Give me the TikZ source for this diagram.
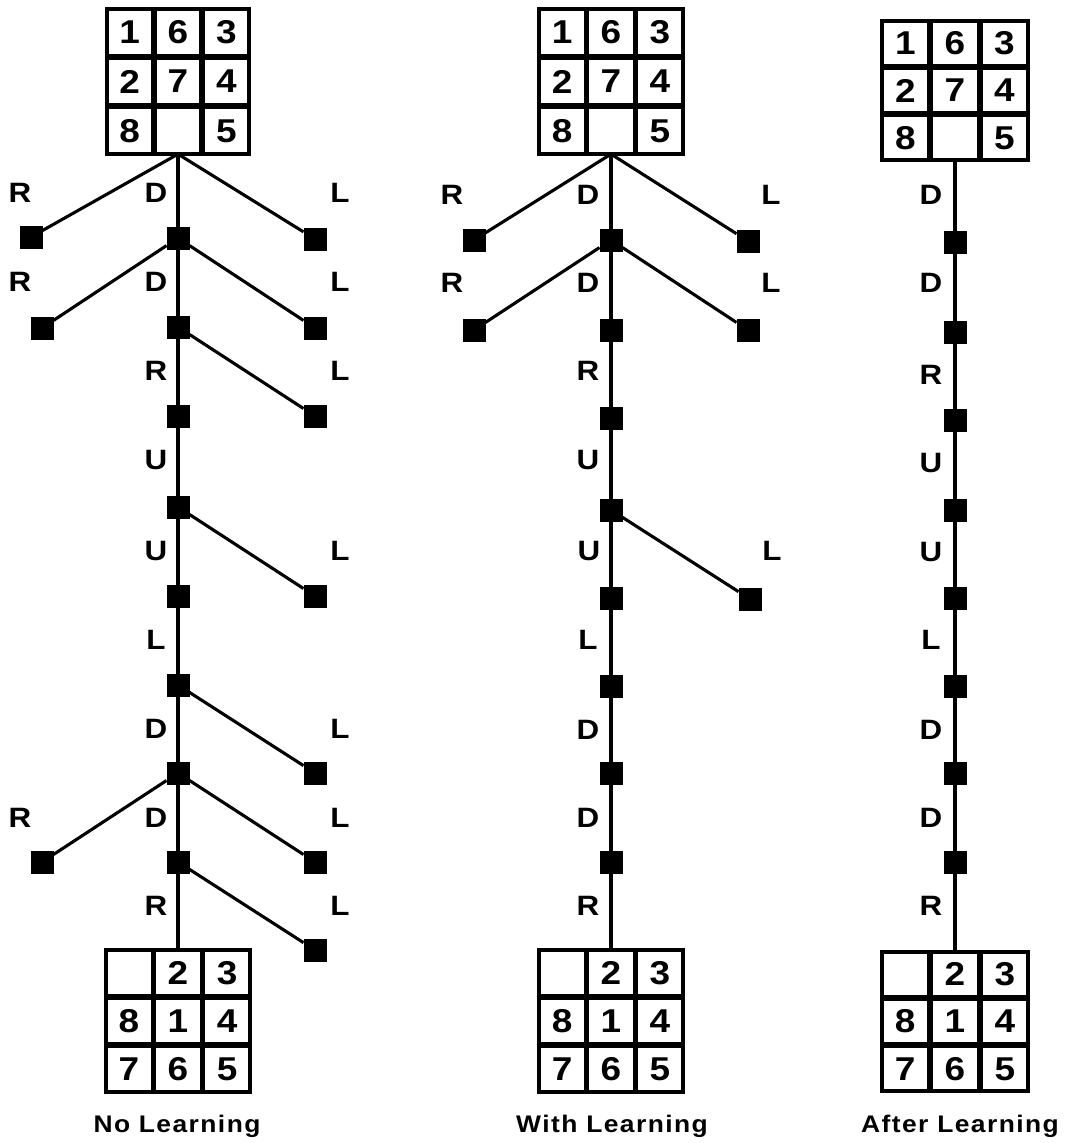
\documentclass[tikz,border=0pt]{standalone}
\usepackage{fontspec}
\newfontfamily\labfont{Liberation Sans}[FakeStretch=1.12]
\newfontfamily\titfont{Liberation Sans}[FakeStretch=1.1,LetterSpace=6]
\usetikzlibrary{matrix}
\tikzset{
  cell/.style={draw, line width=2.8pt, inner sep=0pt, outer sep=0pt, anchor=center,
    font=\labfont\bfseries\fontsize{33}{35}\selectfont},
  puzzle/.style 2 args={matrix of nodes, nodes in empty cells,
    nodes={cell, minimum width=#1, minimum height=#2},
    column sep=0pt, row sep=0pt, inner sep=-1.4pt, outer sep=0pt,
    draw, line width=4pt, anchor=north},
  sq/.style={fill=black, inner sep=0pt, outer sep=0pt, minimum size=23pt},
  lab/.style={font=\labfont\bfseries\fontsize{28}{30}\selectfont, inner sep=0pt},
  edge/.style={line width=3.1pt},
  title/.style={font=\titfont\bfseries\fontsize{24}{26}\selectfont, inner sep=0pt, anchor=base},
}
\begin{document}
\begin{tikzpicture}[x=1pt,y=-1pt]
\useasboundingbox (0,0) rectangle (1065,1143);

% ---------- No Learning ----------
\matrix (top1) [puzzle={45.5pt}{46.5pt}] at (178,9) {1 & 6 & 3\\ 2 & 7 & 4\\ 8 & & 5\\};
\matrix (bot1) [puzzle={46.3pt}{45.5pt}] at (178,950) { & 2 & 3\\ 8 & 1 & 4\\ 7 & 6 & 5\\};

\node[sq] (a1) at (178,238) {};
\node[sq] (a2) at (178,327) {};
\node[sq] (a3) at (178,416) {};
\node[sq] (a4) at (178,507) {};
\node[sq] (a5) at (178,596) {};
\node[sq] (a6) at (178,685) {};
\node[sq] (a7) at (178,773) {};
\node[sq] (a8) at (178,862) {};
\node[sq] (r1) at (31,237) {};
\node[sq] (r2) at (42,328) {};
\node[sq] (r8) at (42,862) {};
\node[sq] (l1) at (315,239) {};
\node[sq] (l2) at (315,328) {};
\node[sq] (l3) at (315,416) {};
\node[sq] (l5) at (315,596) {};
\node[sq] (l7) at (315,773) {};
\node[sq] (l8) at (315,862) {};
\node[sq] (l9) at (315,950) {};

\draw[edge] (top1.south) -- (r1);
\draw[edge] (top1.south) -- (a1);
\draw[edge] (top1.south) -- (l1);
\draw[edge] (a1) -- (r2);
\draw[edge] (a1) -- (a2);
\draw[edge] (a1) -- (l2);
\draw[edge] (a2) -- (a3);
\draw[edge] (a2) -- (l3);
\draw[edge] (a3) -- (a4);
\draw[edge] (a4) -- (a5);
\draw[edge] (a4) -- (l5);
\draw[edge] (a5) -- (a6);
\draw[edge] (a6) -- (a7);
\draw[edge] (a6) -- (l7);
\draw[edge] (a7) -- (a8);
\draw[edge] (a7) -- (r8);
\draw[edge] (a7) -- (l8);
\draw[edge] (a8) -- (bot1.north);
\draw[edge] (a8) -- (l9);

\node[lab] (t1a) at (20,193) {R};
\node[lab] (t1b) at (156,193) {D};
\node[lab] (t1c) at (340,193) {L};
\node[lab] (t2a) at (20,282) {R};
\node[lab] (t2b) at (156,282) {D};
\node[lab] (t2c) at (340,282) {L};
\node[lab] (t3b) at (156,371) {R};
\node[lab] (t3c) at (340,371) {L};
\node[lab] (t4b) at (156,460) {U};
\node[lab] (t5b) at (156,551) {U};
\node[lab] (t5c) at (340,551) {L};
\node[lab] (t6b) at (156,640) {L};
\node[lab] (t7b) at (156,729) {D};
\node[lab] (t7c) at (340,729) {L};
\node[lab] (t8a) at (20,818) {R};
\node[lab] (t8b) at (156,818) {D};
\node[lab] (t8c) at (340,818) {L};
\node[lab] (t9b) at (156,906) {R};
\node[lab] (t9c) at (340,906) {L};

\node[title] (ti1) at (177,1132) {No Learning};

% ---------- With Learning ----------
\matrix (top2) [puzzle={46pt}{46.5pt}] at (611,9) {1 & 6 & 3\\ 2 & 7 & 4\\ 8 & & 5\\};
\matrix (bot2) [puzzle={46pt}{45.5pt}] at (611,950) { & 2 & 3\\ 8 & 1 & 4\\ 7 & 6 & 5\\};

\node[sq] (b1) at (611,240) {};
\node[sq] (b2) at (611,330) {};
\node[sq] (b3) at (611,418) {};
\node[sq] (b4) at (611,510) {};
\node[sq] (b5) at (611,598) {};
\node[sq] (b6) at (611,686) {};
\node[sq] (b7) at (611,773) {};
\node[sq] (b8) at (611,862) {};
\node[sq] (mr1) at (474,240) {};
\node[sq] (ml1) at (748,241) {};
\node[sq] (mr2) at (474,330) {};
\node[sq] (ml2) at (748,330) {};
\node[sq] (ml5) at (750,599) {};

\draw[edge] (top2.south) -- (mr1);
\draw[edge] (top2.south) -- (b1);
\draw[edge] (top2.south) -- (ml1);
\draw[edge] (b1) -- (mr2);
\draw[edge] (b1) -- (b2);
\draw[edge] (b1) -- (ml2);
\draw[edge] (b2) -- (b3);
\draw[edge] (b3) -- (b4);
\draw[edge] (b4) -- (b5);
\draw[edge] (b4) -- (ml5);
\draw[edge] (b5) -- (b6);
\draw[edge] (b6) -- (b7);
\draw[edge] (b7) -- (b8);
\draw[edge] (b8) -- (bot2.north);

\node[lab] (u1a) at (452,195) {R};
\node[lab] (u1b) at (588,195) {D};
\node[lab] (u1c) at (771,195) {L};
\node[lab] (u2a) at (452,283) {R};
\node[lab] (u2b) at (588,283) {D};
\node[lab] (u2c) at (771,283) {L};
\node[lab] (u3b) at (588,371) {R};
\node[lab] (u4b) at (588,460) {U};
\node[lab] (u5b) at (589,551) {U};
\node[lab] (u5c) at (772,551) {L};
\node[lab] (u6b) at (588,640) {L};
\node[lab] (u7b) at (588,730) {D};
\node[lab] (u8b) at (588,818) {D};
\node[lab] (u9b) at (588,906) {R};

\node[title] (ti2) at (612,1132) {With Learning};

% ---------- After Learning ----------
\matrix (top3) [puzzle={46.7pt}{44.5pt}] at (955,21) {1 & 6 & 3\\ 2 & 7 & 4\\ 8 & & 5\\};
\matrix (bot3) [puzzle={47pt}{44.5pt}] at (955,952) { & 2 & 3\\ 8 & 1 & 4\\ 7 & 6 & 5\\};

\node[sq] (c1) at (955,242) {};
\node[sq] (c2) at (955,332) {};
\node[sq] (c3) at (955,420) {};
\node[sq] (c4) at (955,510) {};
\node[sq] (c5) at (955,598) {};
\node[sq] (c6) at (955,686) {};
\node[sq] (c7) at (955,773) {};
\node[sq] (c8) at (955,862) {};

\draw[edge] (top3.south) -- (c1);
\draw[edge] (c1) -- (c2);
\draw[edge] (c2) -- (c3);
\draw[edge] (c3) -- (c4);
\draw[edge] (c4) -- (c5);
\draw[edge] (c5) -- (c6);
\draw[edge] (c6) -- (c7);
\draw[edge] (c7) -- (c8);
\draw[edge] (c8) -- (bot3.north);

\node[lab] (v1) at (931,195) {D};
\node[lab] (v2) at (931,283) {D};
\node[lab] (v3) at (931,375) {R};
\node[lab] (v4) at (931,463) {U};
\node[lab] (v5) at (931,552) {U};
\node[lab] (v6) at (931,640) {L};
\node[lab] (v7) at (931,730) {D};
\node[lab] (v8) at (931,818) {D};
\node[lab] (v9) at (931,906) {R};

\node[title] (ti3) at (960,1132) {After Learning};
\end{tikzpicture}
\end{document}
